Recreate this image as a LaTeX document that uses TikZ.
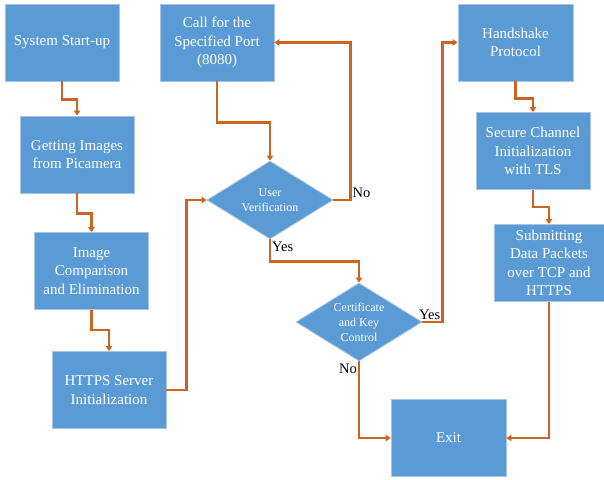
\documentclass[tikz,border=0pt]{standalone}
\usepackage{fontspec}
\setmainfont{Liberation Serif}
\usepackage{tikz}
\usetikzlibrary{positioning,arrows.meta,shapes.geometric,calc}
\definecolor{boxblue}{HTML}{5B9BD5}
\definecolor{boxedge}{HTML}{A9C5E6}
\definecolor{flow}{HTML}{CD6322}

\begin{document}
\begin{tikzpicture}[x=1pt, y=-1pt,
  every node/.style={font=\fontsize{15}{18.3}\selectfont},
  stepbox/.style={draw=boxedge, line width=0.8pt, fill=boxblue, text=white,
                  minimum width=114pt, minimum height=77pt, inner sep=0pt,
                  align=center},
  decide/.style={diamond, aspect=1.62, draw=boxedge, line width=0.8pt,
                 fill=boxblue, text=white, minimum width=126pt,
                 minimum height=78pt, inner sep=0pt, align=center,
                 font=\fontsize{12}{15}\selectfont},
  arr/.style={-{Triangle[length=5pt,width=6.5pt]}, line width=2.3pt, draw=flow},
  lbl/.style={font=\fontsize{14.5}{16}\selectfont, text=black, inner sep=2pt}]

\useasboundingbox (0,0) rectangle (604,479);

%% left column
\node[stepbox] (boot) at (62,42.5)  {System Start-up};
\node[stepbox] (grab) at (77,154.5) {Getting Images\\from Picamera};
\node[stepbox] (cmp)  at (91.5,271) {Image\\Comparison\\and Elimination};
\node[stepbox] (srv)  at (109,390)  {HTTPS Server\\Initialization};

%% middle: port request and the two checks
\node[stepbox] (port) at (217,42.5) {Call for the\\Specified Port\\(8080)};
\node[decide]  (user) at (270,200)  {User\\Verification};
\node[decide]  (cert) at (359,322)  {Certificate\\and Key\\Control};

%% right column
\node[stepbox, minimum width=115pt] (hand) at (515.5,42.5) {Handshake\\Protocol};
\node[stepbox] (chan) at (533,151)  {Secure Channel\\Initialization\\with TLS};
\node[stepbox, minimum width=110pt] (subm) at (549,263) {Submitting\\Data Packets\\over TCP and\\HTTPS};
\node[stepbox, minimum width=115pt] (exit) at (448.5,438) {Exit};

\draw[arr] (boot.south) -- ++(0,18) -| (grab.north);
\draw[arr] (grab.south) -- ++(0,20) -| (cmp.north);
\draw[arr] (cmp.south)  -- ++(0,20) -| (srv.north);
\draw[arr] (srv.east)   -- ++(20,0) |- (user.west);
\draw[arr] (port.south) -- ++(0,41) -| (user.north);

%% decisions
\draw[arr] (user.east) -- ++(17,0) coordinate (userno) |- (port.east);
\node[lbl, above right] (nolbl1) at (userno) {No};
\draw[arr] (user.south) -- ++(0,22) -| (cert.north);
\node[lbl, below right] (yeslbl1) at (user.south) {Yes};
\draw[arr] (cert.east) -- ++(20,0) coordinate (certyes) |- (hand.west);
\node[lbl, above left] (yeslbl2) at (certyes) {Yes};
\draw[arr] (cert.south) |- (exit.west);
\node[lbl, below left] (nolbl2) at (cert.south) {No};

\draw[arr] (hand.south) -- ++(0,17) -| (chan.north);
\draw[arr] (chan.south) -- ++(0,17) -| (subm.north);
\draw[arr] (subm.south) |- (exit.east);
\end{tikzpicture}
\end{document}
